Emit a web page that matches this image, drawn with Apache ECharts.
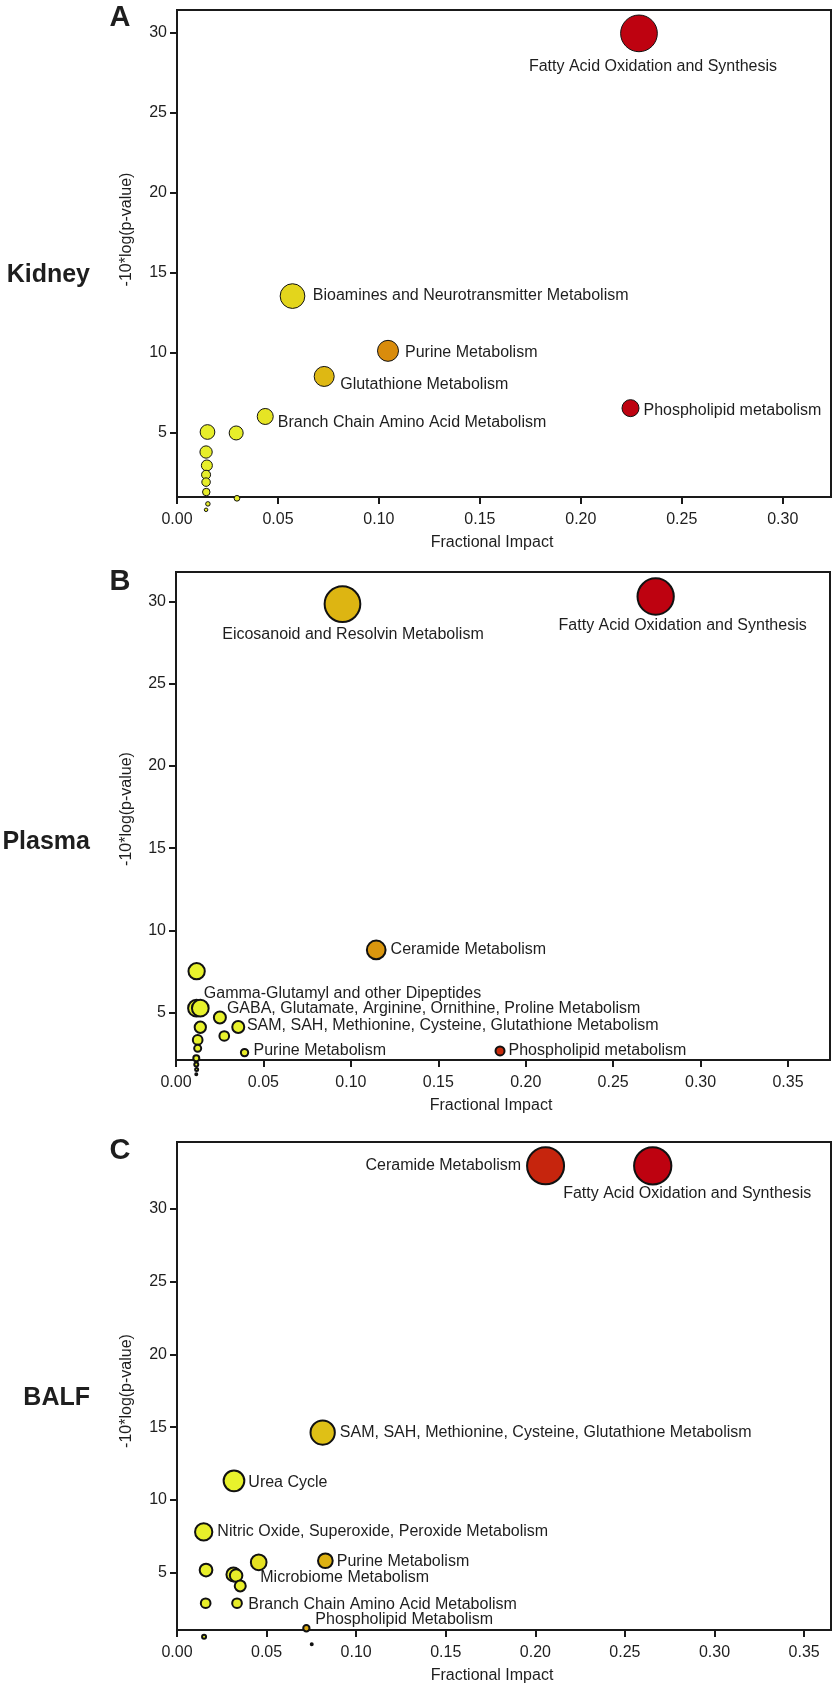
<!DOCTYPE html>
<html>
<head>
<meta charset="utf-8">
<script src="https://cdn.jsdelivr.net/npm/echarts@6/dist/echarts.min.js"></script>
<style>
html,body{margin:0;padding:0;background:#fff;}
#chart{width:833px;height:1686px;}
</style>
</head>
<body>
<div id="chart"></div>
<script>
// ---------- DATA ----------
// Panel A: Kidney
const kidneyNames  = ['Fatty Acid Oxidation and Synthesis','Bioamines and Neurotransmitter Metabolism','Purine Metabolism','Glutathione Metabolism','Phospholipid metabolism','Branch Chain Amino Acid Metabolism','','','','','','','','','',''];
const kidneyImpact = [0.2288,0.0572,0.1045,0.0729,0.2246,0.0437,0.0151,0.0293,0.0144,0.0148,0.0144,0.0144,0.0145,0.0297,0.0153,0.0144];
const kidneyLogP   = [29.96,13.55,10.13,8.53,6.55,6.03,5.06,5.00,3.81,2.97,2.39,1.93,1.31,0.92,0.57,0.20];
const kidneyWeight = [37.7,25.7,22,21,18,17,15.7,15,13.3,12,10,9.5,8.5,6.7,5.5,4.5];
const kidneyScore  = [1.0,0.2,0.6,0.38,1.0,0.1,0.03,0.03,0.03,0.03,0.03,0.03,0.03,0.03,0.03,0.03];

// Panel B: Plasma
const plasmaNames  = ['Eicosanoid and Resolvin Metabolism','Fatty Acid Oxidation and Synthesis','Ceramide Metabolism','Phospholipid metabolism','Gamma-Glutamyl and other Dipeptides','','','GABA, Glutamate, Arginine, Ornithine, Proline Metabolism','SAM, SAH, Methionine, Cysteine, Glutathione Metabolism','','','','','','Purine Metabolism','','',''];
const plasmaImpact = [0.0952,0.2743,0.1145,0.1853,0.0118,0.0117,0.0139,0.0251,0.0356,0.0276,0.0139,0.0124,0.0124,0.0116,0.0392,0.0116,0.0118,0.0116];
const plasmaLogP   = [29.84,30.30,8.81,2.67,7.52,5.27,5.27,4.70,4.13,3.58,4.11,3.34,2.83,2.22,2.57,1.85,1.55,1.25];
const plasmaWeight = [37.7,38.3,20.7,11,18.3,18.7,18.7,14,14,11.7,13.3,11.7,9,8,9.3,6,5,4];
const plasmaScore  = [0.4,1.0,0.55,0.82,0,0,0,0,0,0,0,0,0,0,0.05,0,0,0];

// Panel C: BALF
const balfNames  = ['Ceramide Metabolism','Fatty Acid Oxidation and Synthesis','SAM, SAH, Methionine, Cysteine, Glutathione Metabolism','Urea Cycle','Nitric Oxide, Superoxide, Peroxide Metabolism','Purine Metabolism','Microbiome Metabolism','','','','','','Branch Chain Amino Acid Metabolism','Phospholipid Metabolism','',''];
const balfImpact = [0.2057,0.2655,0.0813,0.0318,0.0149,0.0828,0.0456,0.0162,0.0315,0.0330,0.0353,0.0160,0.0335,0.0722,0.0151,0.0752];
const balfLogP   = [32.96,32.96,14.63,11.31,7.80,5.82,5.71,5.18,4.88,4.80,4.09,2.90,2.90,1.18,0.60,0.08];
const balfWeight = [39,39.3,26.3,22.7,19.3,16.7,17.7,14.7,16,14.5,13,11.7,11.7,8.3,6,4];
const balfScore  = [0.85,1.0,0.33,0,0.02,0.42,0.12,0.02,0.04,0.04,0.02,0.02,0.04,0.45,0,0];

const xTicksA = [0,0.05,0.10,0.15,0.20,0.25,0.30];
const xTicksBC = [0,0.05,0.10,0.15,0.20,0.25,0.30,0.35];
const yTicks = [5,10,15,20,25,30];

// ---------- LAYOUT / STYLE (not data) ----------
// label placement: [position, distance, dx, dy]
const labelLayoutA = {
  'Fatty Acid Oxidation and Synthesis':['bottom',6.5,14,0],
  'Bioamines and Neurotransmitter Metabolism':['right',7.5,0,0],
  'Purine Metabolism':['right',6,0,1.3],
  'Glutathione Metabolism':['right',5.5,0,8.3],
  'Phospholipid metabolism':['right',4,0,2.4],
  'Branch Chain Amino Acid Metabolism':['right',4,0,6]
};
const labelLayoutB = {
  'Eicosanoid and Resolvin Metabolism':['bottom',4,10.5,0],
  'Fatty Acid Oxidation and Synthesis':['bottom',2,27,0],
  'Ceramide Metabolism':['right',4,0,0],
  'Phospholipid metabolism':['right',3,0,0],
  'Gamma-Glutamyl and other Dipeptides':['right',0,-2,22],
  'GABA, Glutamate, Arginine, Ornithine, Proline Metabolism':['right',0,0,-9.4],
  'SAM, SAH, Methionine, Cysteine, Glutathione Metabolism':['right',1.7,0,-1],
  'Purine Metabolism':['right',4.3,0,-1.7]
};
const labelLayoutC = {
  'Ceramide Metabolism':['left',5,0,0],
  'Fatty Acid Oxidation and Synthesis':['bottom',0.5,34.5,0],
  'SAM, SAH, Methionine, Cysteine, Glutathione Metabolism':['right',4,0,0],
  'Urea Cycle':['right',3,0,1.7],
  'Nitric Oxide, Superoxide, Peroxide Metabolism':['right',4,0,0],
  'Purine Metabolism':['right',3,0,0.5],
  'Microbiome Metabolism':['right',0,-7.3,15.6],
  'Branch Chain Amino Acid Metabolism':['right',5.4,0,1.7],
  'Phospholipid Metabolism':['right',4.8,0,-8.3]
};

const FONT = '"Liberation Sans", Arial, Helvetica, sans-serif';
const TXT = '#1e1e1e';
const AXC = '#1a1a1a';

function buildData(names, xs, ys, ws, ss, layout) {
  return xs.map((x, i) => {
    const item = { name: names[i], value: [x, ys[i], ws[i], ss[i]] };
    const lay = layout[names[i]];
    if (names[i] && lay) {
      item.label = {
        show: true, position: lay[0], distance: lay[1], offset: [lay[2], lay[3]],
        formatter: '{b}', fontSize: 16, fontFamily: FONT, color: TXT
      };
    }
    return item;
  });
}

function xAx(gi, max, ticks) {
  return {
    type: 'value', gridIndex: gi, min: 0, max: max,
    name: 'Fractional Impact', nameLocation: 'middle', nameGap: 38,
    nameTextStyle: { fontSize: 16, color: TXT, fontFamily: FONT, padding: [0, 24, 0, 0] },
    axisLine: { show: true, onZero: false, lineStyle: { color: AXC, width: 2 } },
    axisTick: { show: true, inside: false, length: 7, lineStyle: { color: AXC, width: 2 }, customValues: ticks },
    axisLabel: { customValues: ticks, formatter: v => v.toFixed(2), fontSize: 16, color: TXT, fontFamily: FONT, margin: 15 },
    splitLine: { show: false }
  };
}
function yAx(gi, min, max) {
  return {
    type: 'value', gridIndex: gi, min: min, max: max,
    axisLine: { show: true, onZero: false, lineStyle: { color: AXC, width: 2 } },
    axisTick: { show: true, inside: false, length: 7, lineStyle: { color: AXC, width: 2 }, customValues: yTicks },
    axisLabel: { customValues: yTicks, fontSize: 16, color: TXT, fontFamily: FONT, margin: 10 },
    splitLine: { show: false }
  };
}
function series(gi, data, bw) {
  return {
    type: 'scatter', xAxisIndex: gi, yAxisIndex: gi, clip: false,
    data: data,
    symbol: 'circle',
    symbolSize: v => Math.max(v[2] - bw, 2),
    itemStyle: { borderColor: '#111', borderWidth: bw, opacity: 1 },
    label: { show: false },
    emphasis: { disabled: true }
  };
}

const gridBase = { show: true, borderColor: AXC, borderWidth: 2, backgroundColor: 'transparent', containLabel: false, outerBoundsMode: 'none' };

function gtext(x, y, text, font, align, rot) {
  return {
    type: 'text', x: x, y: y, rotation: rot || 0,
    style: { text: text, font: font, fill: TXT, textAlign: align, textVerticalAlign: 'middle', align: align, verticalAlign: 'middle' }
  };
}

const chart = echarts.init(document.getElementById('chart'), null, { renderer: 'canvas' });
chart.setOption({
  animation: false,
  backgroundColor: '#fff',
  grid: [
    Object.assign({ left: 177, top: 10, width: 654, height: 487 }, gridBase),
    Object.assign({ left: 176, top: 572, width: 654, height: 488 }, gridBase),
    Object.assign({ left: 177, top: 1142, width: 654, height: 488 }, gridBase)
  ],
  xAxis: [xAx(0, 0.3239, xTicksA), xAx(1, 0.374, xTicksBC), xAx(2, 0.365, xTicksBC)],
  yAxis: [yAx(0, 1.0, 31.42), yAx(1, 2.12, 31.79), yAx(2, 1.06, 34.6)],
  visualMap: {
    show: false, type: 'continuous', dimension: 3, min: 0, max: 1, seriesIndex: [0, 1, 2],
    inRange: { color: ['#E8F22C', '#E3D51C', '#DDB512', '#D98C0C', '#C9300C', '#BE0210'] }
  },
  series: [
    series(0, buildData(kidneyNames, kidneyImpact, kidneyLogP, kidneyWeight, kidneyScore, labelLayoutA), 1),
    series(1, buildData(plasmaNames, plasmaImpact, plasmaLogP, plasmaWeight, plasmaScore, labelLayoutB), 2),
    series(2, buildData(balfNames, balfImpact, balfLogP, balfWeight, balfScore, labelLayoutC), 2)
  ],
  graphic: [
    gtext(120, 18, 'A', 'bold 29px ' + FONT, 'center'),
    gtext(120, 582, 'B', 'bold 29px ' + FONT, 'center'),
    gtext(120, 1151, 'C', 'bold 29px ' + FONT, 'center'),
    gtext(90, 275, 'Kidney', 'bold 25px ' + FONT, 'right'),
    gtext(90, 842, 'Plasma', 'bold 25px ' + FONT, 'right'),
    gtext(90, 1398, 'BALF', 'bold 25px ' + FONT, 'right'),
    gtext(127, 229.5, '-10*log(p-value)', '16px ' + FONT, 'center', Math.PI / 2),
    gtext(127, 809, '-10*log(p-value)', '16px ' + FONT, 'center', Math.PI / 2),
    gtext(127, 1391, '-10*log(p-value)', '16px ' + FONT, 'center', Math.PI / 2)
  ]
});
</script>
</body>
</html>
